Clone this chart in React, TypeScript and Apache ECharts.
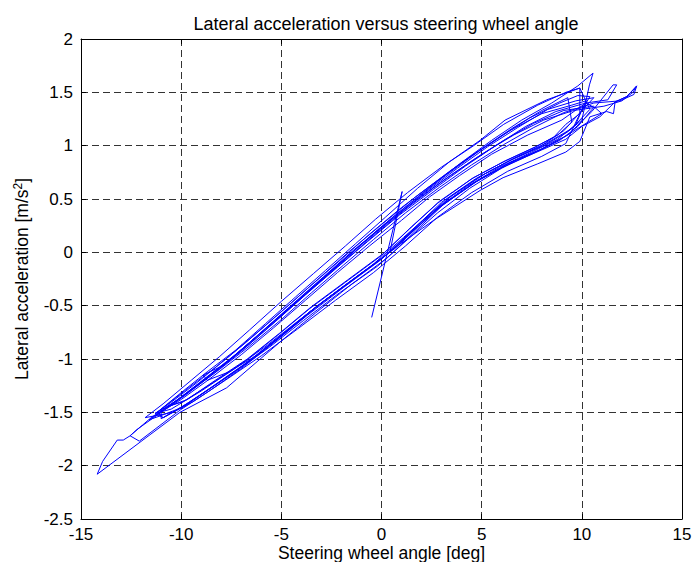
import React, { useEffect, useRef } from "react";
import * as echarts from "echarts";

const titleText = "Lateral acceleration versus steering wheel angle";
const xName = "Steering wheel angle [deg]";
const xTicks = { min: -15, max: 15, interval: 5 };
const yTicks = { min: -2.5, max: 2, interval: 0.5 };

const lap0 = [[-0.49,-0.61],[1.03,0.57],[0.43,0.01],[2.6,0.30],[4.92,0.58],[6.07,0.70],[7.8,0.83],[9.2,0.94],[9.9,1.04],[10.4,1.27],[11.24,1.32],[11.58,1.30],[11.66,1.41],[12.24,1.46],[12.74,1.56],[12.55,1.50],[12.0,1.42],[11.1,1.37],[9.6,1.33],[8.1,1.24],[6.6,1.10],[5.1,0.93],[3.5,0.73],[1.8,0.50],[0.1,0.25],[-1.4,0.02],[-2.9,-0.23],[-4.4,-0.48],[-5.9,-0.73],[-7.4,-0.98],[-8.8,-1.19],[-10.2,-1.39],[-11.3,-1.51]];
const lap1 = [[-10.9,-1.55],[-9.6,-1.41],[-8.0,-1.20],[-6.4,-0.99],[-4.8,-0.75],[-3.2,-0.50],[-1.4,-0.25],[0.4,0.0],[1.8,0.25],[3.2,0.49],[4.9,0.71],[6.5,0.87],[8.1,1.00],[9.3,1.13],[10.0,1.24],[10.38,1.57],[10.56,1.68],[9.8,1.56],[8.5,1.40],[7.0,1.24],[5.5,1.05],[3.9,0.83],[2.2,0.58],[0.5,0.32],[-1.1,0.06],[-2.6,-0.19],[-4.1,-0.44],[-5.7,-0.70],[-7.2,-0.95],[-8.7,-1.17],[-10.1,-1.37],[-11.5,-1.55],[-12.55,-1.72],[-12.89,-1.76],[-13.19,-1.76],[-13.92,-1.96],[-14.19,-2.08]];
const lap2 = [[-10.06,-1.50],[-7.73,-1.27],[-5.06,-0.84],[-3.3,-0.57],[-1.5,-0.30],[0.3,-0.05],[1.7,0.20],[3.1,0.45],[4.8,0.67],[6.4,0.84],[8.0,0.97],[9.3,1.10],[10.5,1.32],[11.56,1.57],[11.74,1.57],[11.3,1.43],[10.2,1.40],[8.7,1.32],[7.2,1.18],[5.7,1.00],[4.2,0.81],[2.6,0.59],[0.9,0.35],[-0.7,0.10],[-2.2,-0.14],[-3.8,-0.40],[-5.3,-0.65],[-6.9,-0.91],[-8.4,-1.14],[-9.8,-1.34],[-11.0,-1.50],[-12.2,-1.66],[-12.55,-1.72],[-12.09,-1.77]];
const lap3 = [[-10.06,-1.48],[-8.6,-1.30],[-7.0,-1.09],[-5.4,-0.85],[-3.7,-0.59],[-1.9,-0.33],[-0.1,-0.08],[1.4,0.17],[2.9,0.42],[4.6,0.65],[6.2,0.82],[7.9,0.96],[9.2,1.09],[10.3,1.22],[11.0,1.30],[10.58,1.37],[9.1,1.33],[7.6,1.21],[6.1,1.05],[4.6,0.87],[3.0,0.66],[1.3,0.42],[-0.3,0.17],[-1.8,-0.07],[-3.4,-0.33],[-4.9,-0.58],[-6.4,-0.83],[-7.9,-1.06],[-8.9,-1.15],[-8.7,-1.20]];
const lap4 = [[-7.6,-1.12],[-6.1,-0.95],[-4.5,-0.71],[-2.9,-0.46],[-1.1,-0.21],[0.7,0.04],[2.1,0.29],[3.5,0.53],[5.2,0.74],[6.8,0.90],[8.3,1.03],[9.5,1.16],[10.4,1.34],[9.9,1.54],[9.0,1.48],[8.25,1.43],[6.17,1.24],[4.92,1.05],[3.4,0.85],[1.8,0.60],[0.2,0.33],[-1.3,0.08],[-2.8,-0.17],[-4.3,-0.42],[-5.8,-0.67],[-7.3,-0.92],[-8.7,-1.12],[-9.9,-1.30],[-11.2,-1.50],[-10.9,-1.55]];
const lap5 = [[-9.8,-1.43],[-8.2,-1.23],[-6.6,-1.02],[-5.0,-0.78],[-3.4,-0.53],[-1.6,-0.28],[0.2,-0.03],[1.6,0.22],[3.0,0.47],[4.7,0.69],[6.3,0.85],[7.9,0.99],[9.1,1.14],[10.1,1.35],[10.6,1.45],[9.7,1.42],[8.3,1.34],[6.8,1.17],[5.3,0.99],[3.8,0.79],[2.1,0.55],[0.4,0.29],[-1.2,0.04],[-2.7,-0.21],[-4.2,-0.46],[-5.8,-0.72],[-7.3,-0.96],[-8.8,-1.18],[-10.3,-1.40],[-11.6,-1.57],[-11.0,-1.53]];
const lap6 = [[-9.9,-1.45],[-8.5,-1.27],[-6.9,-1.06],[-5.3,-0.82],[-3.6,-0.56],[-1.8,-0.31],[0.0,-0.06],[1.5,0.19],[3.0,0.44],[4.7,0.66],[6.4,0.83],[8.0,0.96],[9.2,1.06],[10.0,1.18],[10.9,1.27],[11.66,1.41],[12.24,1.46],[12.74,1.56],[12.6,1.48],[11.9,1.42],[10.6,1.40],[9.1,1.31],[7.6,1.17],[6.1,1.01],[4.5,0.82],[2.9,0.61],[1.2,0.37],[-0.4,0.12],[-1.9,-0.12],[-3.5,-0.38],[-5.0,-0.63],[-6.6,-0.88],[-8.1,-1.10],[-9.4,-1.28],[-10.7,-1.45]];
const lap7 = [[-9.7,-1.38],[-8.3,-1.20],[-6.7,-1.0],[-5.1,-0.76],[-3.5,-0.51],[-1.7,-0.26],[0.1,-0.01],[1.5,0.24],[2.9,0.48],[4.6,0.70],[6.2,0.86],[7.7,0.99],[8.8,1.10],[9.5,1.22],[9.3,1.45],[8.0,1.33],[6.5,1.16],[5.0,0.97],[3.4,0.76],[1.7,0.52],[0.0,0.26],[-1.6,0.01],[-3.1,-0.24],[-4.6,-0.49],[-6.2,-0.75],[-7.7,-0.99],[-9.2,-1.22],[-10.6,-1.42],[-11.3,-1.51]];
const lap8 = [[-10.5,-1.47],[-9.0,-1.30],[-7.4,-1.10],[-5.7,-0.87],[-4.0,-0.62],[-2.2,-0.36],[-0.4,-0.11],[1.1,0.14],[2.6,0.39],[4.3,0.62],[5.9,0.80],[7.5,0.94],[8.8,1.06],[9.7,1.20],[10.2,1.42],[9.5,1.38],[8.0,1.30],[6.4,1.14],[4.8,0.94],[3.2,0.72],[1.5,0.47],[-0.2,0.21],[-1.7,-0.04],[-3.3,-0.30],[-4.8,-0.55],[-6.3,-0.80],[-7.8,-1.04],[-9.3,-1.26],[-10.6,-1.44]];
const lap9 = [[-9.9,-1.40],[-8.4,-1.22],[-6.8,-1.02],[-5.2,-0.78],[-3.6,-0.53],[-1.8,-0.28],[0.0,-0.03],[1.4,0.22],[2.8,0.46],[4.5,0.69],[6.1,0.85],[7.6,0.98],[8.6,1.08],[9.2,1.20],[9.9,1.30],[10.4,1.46],[9.8,1.47],[8.9,1.40],[7.4,1.26],[5.9,1.08],[4.3,0.88],[2.7,0.66],[1.0,0.42],[-0.6,0.17],[-2.1,-0.08],[-3.7,-0.34],[-5.2,-0.59],[-6.8,-0.85],[-8.3,-1.08],[-9.7,-1.28],[-11.0,-1.47]];
const lap10 = [[-11.0,-1.56],[-9.4,-1.40],[-7.8,-1.20],[-6.0,-0.97],[-4.2,-0.72],[-2.3,-0.45],[-0.4,-0.19],[1.2,0.06],[2.8,0.33],[4.5,0.56],[6.3,0.76],[8.0,0.90],[9.2,1.02],[9.9,1.30],[9.9,1.54],[9.2,1.50],[7.8,1.38],[6.1,1.20],[4.6,1.00],[3.0,0.80],[1.3,0.56],[-0.3,0.31],[-1.8,0.06],[-3.4,-0.20],[-5.0,-0.46],[-6.6,-0.73],[-8.1,-0.98],[-9.5,-1.20],[-10.9,-1.42],[-11.8,-1.55]];
const lap11 = [[-10.4,-1.50],[-8.9,-1.32],[-7.3,-1.12],[-5.6,-0.89],[-3.9,-0.64],[-2.1,-0.38],[-0.2,-0.13],[1.3,0.12],[2.8,0.37],[4.4,0.60],[6.0,0.79],[7.6,0.93],[8.9,1.05],[9.8,1.18],[10.6,1.36],[10.2,1.40],[9.0,1.24],[7.3,1.10],[5.5,0.92],[3.9,0.72],[2.4,0.52],[1.0,0.30],[-0.6,0.06],[-2.2,-0.19],[-3.8,-0.45],[-5.4,-0.71],[-7.0,-0.96],[-8.6,-1.19],[-10.0,-1.38],[-11.2,-1.52]];

const laps = [lap0, lap1, lap2, lap3, lap4, lap5, lap6, lap7, lap8, lap9, lap10, lap11];

export default function App() {
  const ref = useRef<HTMLDivElement>(null);
  useEffect(() => {
    document.body.style.margin = "0";
    const chart = echarts.init(ref.current!, null, { renderer: "svg" });
    const font = "Liberation Sans";
    const data = ([] as number[][]).concat(...laps);
    const axisLine = { show: true, onZero: false, lineStyle: { color: "#000", width: 1 } };
    const tick = { show: true, inside: true, length: 5, lineStyle: { color: "#000" } };
    const split = { show: true, lineStyle: { color: "#333", type: [7, 4] as any, width: 1 } };
    chart.setOption({
      animation: false,
      backgroundColor: "#fff",
      title: {
        text: titleText,
        left: 381,
        textAlign: "center",
        top: 10,
        textStyle: { fontFamily: font, fontSize: 18, fontWeight: "normal", color: "#000" },
      },
      grid: { left: 81, right: 10, top: 39, bottom: 43, show: false, outerBoundsMode: "none", containLabel: false },
      xAxis: [
        {
          type: "value", ...xTicks, position: "bottom",
          name: xName, nameLocation: "middle", nameGap: 25, nameMoveOverlap: false,
          nameTextStyle: { fontFamily: font, fontSize: 17.5, color: "#000", lineHeight: 18 },
          axisLine, axisTick: tick, splitLine: split,
          axisLabel: { fontFamily: font, fontSize: 17, color: "#000", margin: 7, lineHeight: 17 },
        },
        {
          type: "value", ...xTicks, position: "top",
          axisLine, axisTick: tick, splitLine: { show: false }, axisLabel: { show: false },
        },
      ],
      yAxis: [
        {
          type: "value", ...yTicks, position: "left",
          name: "Lateral acceleration [m/s{sup|2}]", nameLocation: "middle", nameGap: 49, nameMoveOverlap: false,
          nameTextStyle: {
            fontFamily: font, fontSize: 17.5, color: "#000",
            rich: { sup: { fontFamily: font, fontSize: 12, verticalAlign: "top", padding: [0, 0, 8, 0], color: "#000" } },
          },
          axisLine, axisTick: tick, splitLine: split,
          axisLabel: { fontFamily: font, fontSize: 17, color: "#000", margin: 8 },
        },
        {
          type: "value", ...yTicks, position: "right",
          axisLine, axisTick: tick, splitLine: { show: false }, axisLabel: { show: false },
        },
      ],
      series: [
        {
          type: "line", data, showSymbol: false, symbol: "none",
          lineStyle: { color: "#0000ff", width: 1 }, xAxisIndex: 0, yAxisIndex: 0,
        },
      ],
    });
    return () => chart.dispose();
  }, []);
  return <div ref={ref} style={{ width: 692, height: 562 }} />;
}
